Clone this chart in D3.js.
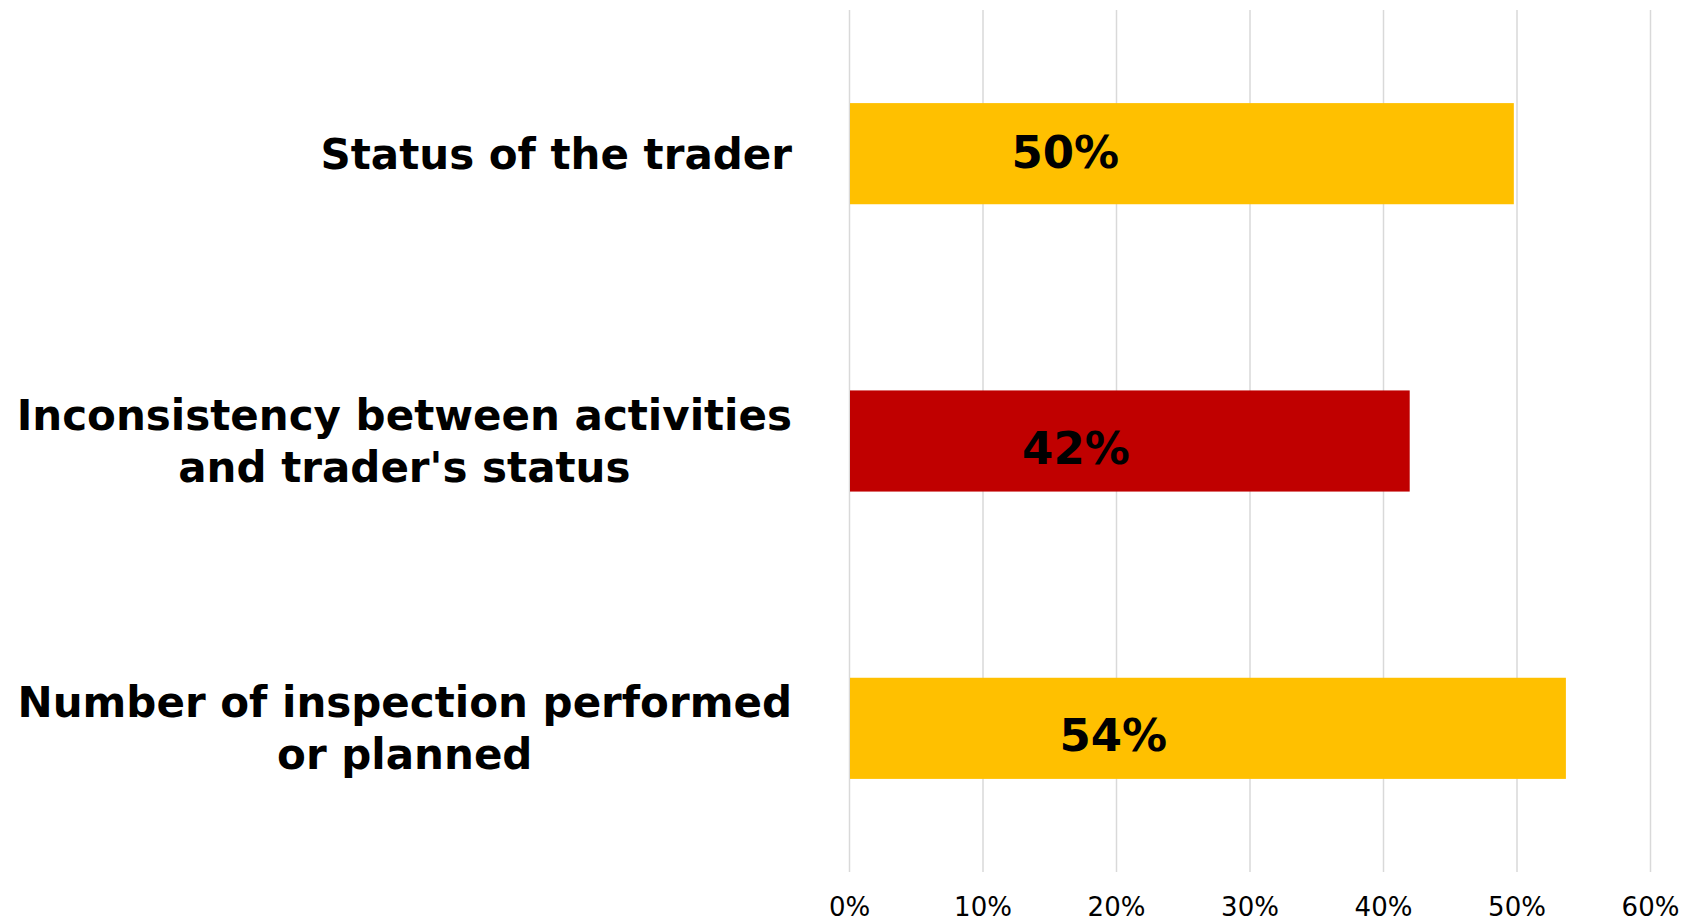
<!DOCTYPE html>
<html>
<head>
<meta charset="utf-8">
<script src="https://cdn.jsdelivr.net/npm/d3@7"></script>
<style>
  html, body { margin: 0; padding: 0; background: #fff; }
  svg { display: block; font-family: "DejaVu Sans", Verdana, sans-serif; }
</style>
</head>
<body>
<svg id="chart" width="1699" height="921"></svg>
<script>
(function () {
  'use strict';

  // ── Data ──────────────────────────────────────────────────────────────
  const categories = [
    ['Status of the trader'],
    ['Inconsistency between activities', "and trader's status"],
    ['Number of inspection performed', 'or planned']
  ];
  const values      = [0.498, 0.42, 0.537];
  const valueLabels = ['50%', '42%', '54%'];
  const labelAnchor = [0.162, 0.170, 0.198];   // where each value label sits (data units)
  const barColors   = ['#FFC000', '#C00000', '#FFC000'];
  const xTicks      = [0, 0.1, 0.2, 0.3, 0.4, 0.5, 0.6];

  const W = 1699, H = 921;
  const margin = { top: 10, right: 49, bottom: 49, left: 849 };
  const innerW = W - margin.left - margin.right;
  const innerH = H - margin.top - margin.bottom;

  const svg = d3.select('#chart');
  const g = svg.append('g').attr('transform', `translate(${margin.left},${margin.top})`);

  const x = d3.scaleLinear().domain([0, 0.6]).range([0, innerW]);
  const y = d3.scaleBand()
    .domain(d3.range(categories.length))
    .range([0, innerH])
    .paddingInner(0.648)
    .paddingOuter(0.324);

  // Grid lines + tick labels
  g.append('g')
    .attr('transform', `translate(0,${innerH})`)
    .call(d3.axisBottom(x).tickValues(xTicks).tickFormat(d3.format('.0%')).tickSize(-innerH).tickPadding(26))
    .call(ax => ax.select('.domain').remove())
    .call(ax => ax.selectAll('.tick line').attr('stroke', '#d9d9d9').attr('stroke-width', 1.5))
    .call(ax => ax.selectAll('.tick text')
      .attr('fill', '#000')
      .style('font-size', '26px')
      .style('font-family', '"DejaVu Sans", Verdana, sans-serif'));

  // Bars
  g.selectAll('.bar')
    .data(values)
    .enter()
    .append('rect')
    .attr('class', 'bar')
    .attr('x', x(0) + 1)
    .attr('y', (d, i) => y(i))
    .attr('width', d => x(d) - x(0) - 1)
    .attr('height', y.bandwidth())
    .attr('fill', (d, i) => barColors[i]);

  // Value labels
  g.selectAll('.val')
    .data(valueLabels)
    .enter()
    .append('text')
    .attr('class', 'val')
    .attr('x', (d, i) => x(labelAnchor[i]))
    .attr('y', (d, i) => y(i) + y.bandwidth() / 2 + (i === 0 ? 14 : 23))
    .attr('text-anchor', 'middle')
    .style('font-size', '45px')
    .style('font-weight', 'bold')
    .attr('fill', '#000')
    .text(d => d);

  // Category labels: centred lines, block right-aligned against the plot
  const rightEdge = 792 - margin.left;
  const lineH = 52;
  categories.forEach((lines, i) => {
    const cy = y(i) + y.bandwidth() / 2;
    const t = g.append('text')
      .attr('text-anchor', 'middle')
      .style('font-size', '42px')
      .style('font-weight', 'bold')
      .attr('fill', '#000');
    const spans = lines.map((ln, k) => t.append('tspan')
      .attr('y', cy + 15 + (k - (lines.length - 1) / 2) * lineH)
      .text(ln));
    const maxW = d3.max(spans, s => s.node().getComputedTextLength());
    spans.forEach(s => s.attr('x', rightEdge - maxW / 2));
  });
})();
</script>
</body>
</html>
